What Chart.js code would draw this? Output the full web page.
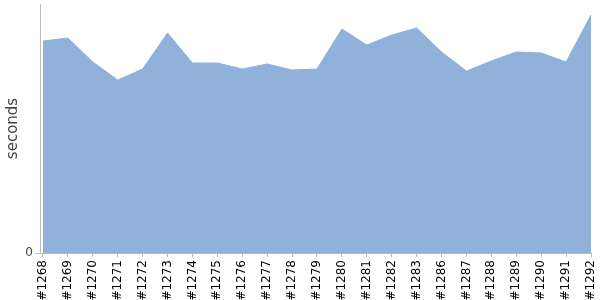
<!DOCTYPE html>
<html>
<head>
<meta charset="utf-8">
<script src="https://cdn.jsdelivr.net/npm/chart.js@4"></script>
<style>
  html, body { margin: 0; padding: 0; background: #fff; }
  #wrap { width: 600px; height: 300px; }
</style>
</head>
<body>
<div id="wrap"><canvas id="timesChart"></canvas></div>
<script>
const builds = ['#1268', '#1269', '#1270', '#1271', '#1272', '#1273', '#1274', '#1275', '#1276', '#1277', '#1278', '#1279',
  '#1280', '#1281', '#1282', '#1283', '#1286', '#1287', '#1288', '#1289', '#1290', '#1291', '#1292'];
const seconds = [212, 215, 191, 173, 184, 220, 190, 190, 184, 189, 183, 184,
  224, 208, 218, 225, 201, 182, 192, 201, 200, 191, 238];
const yTicks = [0];
const yMax = 249;

// points are placed by index so the x axis can start a little before the first build
const points = seconds.map((s, i) => ({ x: i, y: s }));

const config = {
  type: 'line',
  data: {
    datasets: [{
      label: 'seconds',
      data: points,
      fill: 'origin',
      backgroundColor: 'rgba(143, 177, 218, 1)',
      borderColor: 'rgba(143, 177, 218, 1)',
      borderWidth: 1,
      pointRadius: 0,
      tension: 0
    }]
  },
  options: {
    responsive: true,
    maintainAspectRatio: false,
    animation: false,
    layout: { padding: { top: 4, right: 9, left: 0, bottom: 0 } },
    scales: {
      x: {
        type: 'linear',
        min: -0.12,
        max: builds.length - 1,
        afterBuildTicks: (axis) => { axis.ticks = builds.map((b, i) => ({ value: i })); },
        afterFit: (axis) => { axis.height = 47; axis.paddingLeft = 0; axis.paddingRight = 0; },
        grid: { display: true, drawOnChartArea: false, drawTicks: true, tickLength: 4, color: '#bbb' },
        border: { display: true, color: '#bbb' },
        ticks: {
          color: '#000',
          font: { family: 'DejaVu Sans', size: 12 },
          minRotation: 90,
          maxRotation: 90,
          autoSkip: false,
          padding: 3,
          callback: (v) => builds[v]
        }
      },
      y: {
        min: 0,
        max: yMax,
        afterBuildTicks: (axis) => { axis.ticks = yTicks.map(v => ({ value: v })); },
        afterFit: (axis) => { axis.width = 40; axis.paddingTop = 0; axis.paddingBottom = 0; },
        grid: { display: true, drawOnChartArea: false, drawTicks: true, tickLength: 5, color: '#bbb' },
        border: { display: true, color: '#bbb' },
        ticks: {
          color: '#444',
          font: { family: 'DejaVu Sans', size: 12 },
          padding: 2
        },
        title: {
          display: true,
          text: 'seconds',
          color: '#444',
          font: { family: 'DejaVu Sans', size: 15 },
          padding: { top: 4, bottom: 4 }
        }
      }
    },
    plugins: {
      legend: { display: false },
      tooltip: { enabled: false }
    }
  }
};

const ctx = document.getElementById('timesChart').getContext('2d');
const timesChart = new Chart(ctx, config);
</script>
</body>
</html>
